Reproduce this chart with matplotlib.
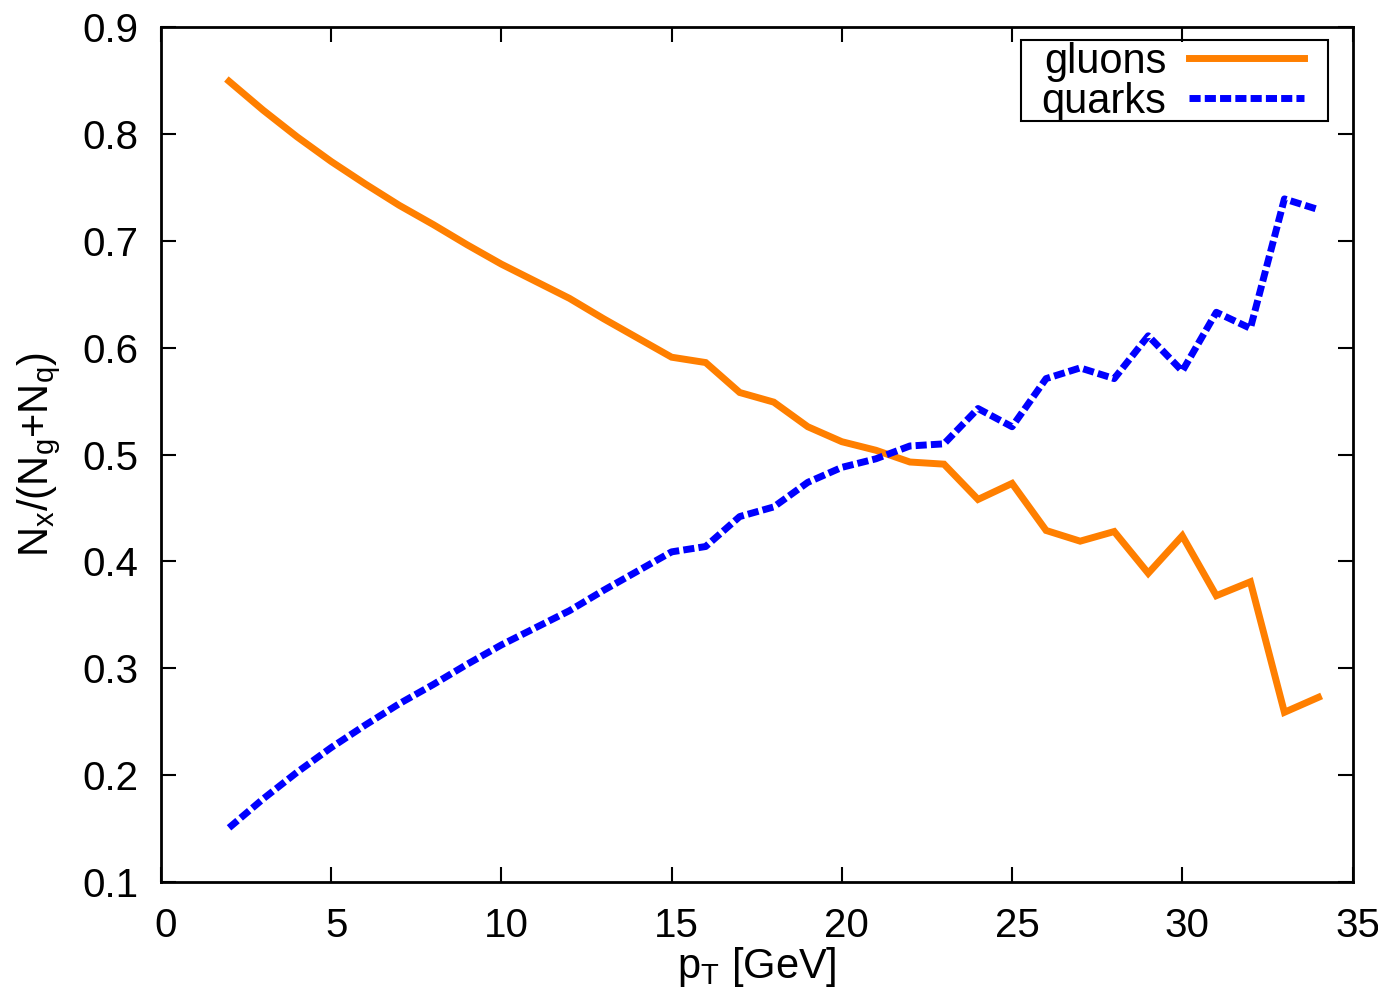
import matplotlib.pyplot as plt
import matplotlib.transforms as mtransforms
from matplotlib.patches import Rectangle

plt.rcParams['font.family'] = ['Liberation Sans', 'DejaVu Sans']

# fraction of gluon / quark jets vs pT
pt = [2, 3, 4, 5, 6, 7, 8, 9, 10, 11, 12, 13, 14, 15, 16, 17, 18,
      19, 20, 21, 22, 23, 24, 25, 26, 27, 28, 29, 30, 31, 32, 33, 34]
gluons = [0.849, 0.822, 0.797, 0.774, 0.753, 0.733, 0.715, 0.696, 0.678,
          0.662, 0.646, 0.627, 0.609, 0.591, 0.586, 0.558, 0.549, 0.526,
          0.512, 0.504, 0.493, 0.491, 0.458, 0.473, 0.429, 0.419, 0.428,
          0.389, 0.424, 0.368, 0.381, 0.259, 0.273]
quarks = [0.151, 0.178, 0.203, 0.226, 0.247, 0.267, 0.285, 0.304, 0.322,
          0.338, 0.354, 0.373, 0.391, 0.409, 0.414, 0.442, 0.451, 0.474,
          0.488, 0.496, 0.508, 0.510, 0.543, 0.526, 0.571, 0.581, 0.571,
          0.611, 0.578, 0.633, 0.618, 0.739, 0.729]

fig = plt.figure(figsize=(13.78, 9.97), dpi=100)
ax = fig.add_axes([0.1168, 0.115, 0.8647, 0.8582])

ax.plot(pt, gluons, color='#ff7f00', lw=5, label='gluons', solid_joinstyle='miter')
ax.plot(pt, quarks, color='#0000ff', lw=5, dashes=(1.6, 0.6),
        dash_capstyle='butt', label='quarks')

ax.set_xlim(0, 35)
ax.set_ylim(0.1, 0.9)
ax.set_xticks(range(0, 36, 5))
ax.set_yticks([0.1, 0.2, 0.3, 0.4, 0.5, 0.6, 0.7, 0.8, 0.9])
ax.tick_params(direction='in', length=11, width=1.5, labelsize=29,
               top=True, right=True)
ax.tick_params(axis='x', pad=18)
ax.tick_params(axis='y', pad=16)
for s in ax.spines.values():
    s.set_linewidth(2)

# gnuplot puts the x labels a little to the right of the ticks
shift = mtransforms.ScaledTranslation(5 / 100, 0, fig.dpi_scale_trans)
for lab in ax.get_xticklabels():
    lab.set_transform(lab.get_transform() + shift)

ax.set_xlabel('p$_\\mathregular{T}$ [GeV]', fontsize=30, labelpad=0)
ax.set_ylabel('N$_\\mathregular{x}$/(N$_\\mathregular{g}$+N$_\\mathregular{q}$)',
              fontsize=30, labelpad=14)

leg = ax.legend(loc='upper right', bbox_to_anchor=(0.959, 0.9822),
                fontsize=30, markerfirst=False, frameon=False,
                handlelength=2.75, handletextpad=0.55, labelspacing=0.0,
                borderpad=0, borderaxespad=0)
ax.add_patch(Rectangle((0.7218, 0.8898), 0.9794 - 0.7218, 0.9845 - 0.8898,
                       transform=ax.transAxes, fill=False, ec='black',
                       lw=1.5, zorder=5))

fig.savefig('out.png', dpi=100)
